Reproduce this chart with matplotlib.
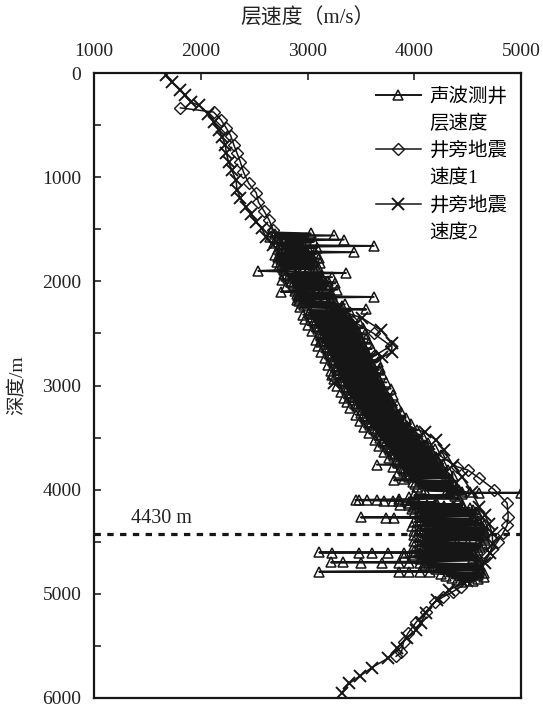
import matplotlib
matplotlib.use("Agg")
import matplotlib.pyplot as plt
from matplotlib.lines import Line2D
from matplotlib.ticker import MultipleLocator

plt.rcParams['font.family'] = ['Liberation Serif', 'Noto Sans CJK SC', 'DejaVu Sans']

# sonic log interval velocity (depth m, velocity m/s)
sonic_depth = [
    1530, 1540, 1550, 1560, 1570, 1580, 1590, 1600, 1610, 1620, 1630, 1640, 1650, 1660, 1670, 1680, 1690, 1700, 1710, 1720,
    1730, 1740, 1750, 1760, 1770, 1780, 1790, 1800, 1810, 1820, 1830, 1840, 1850, 1860, 1870, 1880, 1890, 1900, 1910, 1920,
    1930, 1940, 1950, 1960, 1970, 1980, 1990, 2000, 2010, 2020, 2030, 2040, 2050, 2060, 2070, 2080, 2090, 2100, 2110, 2120,
    2130, 2140, 2150, 2160, 2170, 2180, 2190, 2200, 2210, 2220, 2230, 2240, 2250, 2260, 2270, 2280, 2290, 2300, 2310, 2320,
    2330, 2340, 2350, 2360, 2370, 2380, 2390, 2400, 2410, 2420, 2430, 2440, 2450, 2460, 2470, 2480, 2490, 2500, 2510, 2520,
    2530, 2540, 2550, 2560, 2570, 2580, 2590, 2600, 2610, 2620, 2630, 2640, 2650, 2660, 2670, 2680, 2690, 2700, 2710, 2720,
    2730, 2740, 2750, 2760, 2770, 2780, 2790, 2800, 2810, 2820, 2830, 2840, 2850, 2860, 2870, 2880, 2890, 2900, 2910, 2920,
    2930, 2940, 2950, 2960, 2970, 2980, 2990, 3000, 3010, 3020, 3030, 3040, 3050, 3060, 3070, 3080, 3090, 3100, 3110, 3120,
    3130, 3140, 3150, 3160, 3170, 3180, 3190, 3200, 3210, 3220, 3230, 3240, 3250, 3260, 3270, 3280, 3290, 3300, 3310, 3320,
    3330, 3340, 3350, 3360, 3370, 3380, 3390, 3400, 3410, 3420, 3430, 3440, 3450, 3460, 3470, 3480, 3490, 3500, 3510, 3520,
    3530, 3540, 3550, 3560, 3570, 3580, 3590, 3600, 3610, 3620, 3630, 3640, 3650, 3660, 3670, 3680, 3690, 3700, 3710, 3720,
    3730, 3740, 3750, 3760, 3770, 3780, 3790, 3800, 3810, 3820, 3830, 3840, 3850, 3860, 3870, 3880, 3890, 3900, 3910, 3920,
    3930, 3940, 3950, 3960, 3970, 3980, 3990, 4000, 4010, 4020,
    4026, 4028, 4030, 4035, 4045, 4055, 4065, 4075, 4085, 4092, 4098, 4100, 4102, 4104, 4106, 4108, 4110, 4120, 4130, 4140,
    4148, 4149, 4150, 4151, 4152, 4153, 4154, 4155, 4165, 4175, 4185, 4195, 4205, 4215, 4225, 4235, 4245, 4255, 4266, 4268,
    4270, 4280, 4290, 4300, 4310, 4320, 4330, 4340, 4350, 4352, 4354, 4356, 4358, 4360, 4362, 4364, 4375, 4385, 4395, 4405,
    4415, 4425, 4435, 4445, 4455, 4465, 4475, 4485, 4495, 4505, 4507, 4509, 4511, 4513, 4515, 4525, 4535, 4545, 4555, 4565,
    4575, 4585, 4595, 4603, 4604, 4605, 4606, 4607, 4608, 4609, 4610, 4611, 4620, 4630, 4640, 4650, 4660, 4670, 4680, 4690,
    4698, 4699, 4700, 4701, 4702, 4703, 4704, 4705, 4715, 4725, 4735, 4745, 4755, 4765, 4775, 4788, 4789, 4790, 4791, 4792,
    4800, 4810, 4820, 4830, 4840, 4850, 4860, 4870, 4880, 4888,
]
sonic_vel = [
    2660, 3030, 2700, 3250, 2650, 2990, 2720, 3340, 2790, 3060, 2690, 2960, 2740, 3620, 2760, 3090, 2720, 3010, 2790, 3440,
    2740, 3080, 2700, 3040, 2720, 3110, 2750, 3060, 2710, 3120, 2760, 3070, 2730, 3100, 2770, 3060, 2780, 2540, 2900, 3360,
    2780, 3130, 2800, 3230, 2820, 3140, 2760, 3190, 2850, 3260, 2860, 3200, 2800, 3180, 2890, 3280, 2880, 2750, 3220, 2900,
    3230, 2910, 3620, 2920, 3240, 2900, 2920, 3260, 2950, 3350, 2970, 3320, 2930, 3310, 3550, 3020, 3400, 3010, 3360, 2960,
    3370, 3030, 3390, 2980, 3400, 3060, 3480, 3070, 3430, 3000, 3440, 3090, 3520, 3100, 3460, 3040, 3470, 3120, 3540, 3130,
    3490, 3140, 3550, 3080, 3500, 3130, 3580, 3160, 3520, 3100, 3530, 3180, 3600, 3190, 3550, 3130, 3560, 3210, 3640, 3220,
    3570, 3160, 3580, 3240, 3660, 3250, 3600, 3190, 3610, 3270, 3680, 3280, 3670, 3220, 3630, 3290, 3700, 3230, 3650, 3310,
    3660, 3250, 3670, 3330, 3740, 3340, 3690, 3280, 3700, 3360, 3780, 3370, 3720, 3310, 3730, 3390, 3800, 3400, 3750, 3340,
    3760, 3430, 3780, 3370, 3790, 3450, 3840, 3460, 3800, 3400, 3810, 3510, 3880, 3500, 3840, 3450, 3860, 3540, 3920, 3550,
    3890, 3490, 3900, 3580, 3970, 3590, 3930, 3530, 3950, 3620, 4030, 3640, 3980, 3580, 4000, 3670, 4080, 3680, 4040, 3630,
    4060, 3710, 4130, 3730, 4100, 3670, 4120, 3760, 4190, 3770, 4160, 3720, 4170, 3800, 4250, 3810, 4200, 3760, 4210, 3840,
    4220, 3850, 4270, 3650, 4250, 3800, 4260, 3890, 4320, 3900, 4290, 3850, 4300, 3940, 4360, 3950, 4330, 3900, 3810, 4350,
    3990, 4360, 4010, 4380, 4030, 4400, 4060, 4420, 4100, 4450,
    4520, 4610, 5000, 4300, 4450, 4000, 4380, 3950, 4420, 3860, 3480, 3450, 3560, 3650, 3720, 3800, 3860, 4200, 3950, 4450,
    3870, 3950, 4040, 4120, 4200, 4280, 4360, 4450, 4000, 4520, 3980, 4550, 4050, 4580, 4000, 4600, 4050, 4550, 3500, 3740,
    3810, 4550, 4050, 4600, 4000, 4620, 4100, 4650, 3980, 4070, 4150, 4250, 4350, 4450, 4550, 4640, 4050, 4650, 4000, 4660,
    4100, 4650, 4000, 4630, 4050, 4650, 4100, 4660, 4000, 4100, 4200, 4300, 4400, 4500, 4600, 4050, 4640, 4000, 4620, 4100,
    4600, 4000, 4550, 3110, 3230, 3480, 3600, 3750, 3900, 4050, 4200, 4350, 4550, 4000, 4600, 3900, 4550, 4050, 4600, 4100,
    3220, 3330, 3500, 3700, 3860, 3950, 4050, 4140, 4600, 4100, 4620, 4150, 4600, 4200, 4620, 3110, 3860, 3950, 4050, 4150,
    4650, 4250, 4600, 4300, 4650, 4350, 4600, 4400, 4550, 4450,
]

# well-side seismic velocity 1 (diamonds)
seis1_depth = [335, 375, 450, 530, 600, 690, 770, 850, 950, 1060, 1150, 1240, 1320, 1410, 1510, 1610, 1720, 1830,
               1940, 2050, 2160, 2270, 2380, 2500, 2620, 2720, 2820, 2930, 3040, 3150, 3260, 3370, 3480, 3580,
               3680, 3780, 3810, 3890, 4000, 4130, 4260, 4340, 4420, 4500, 4570, 4640, 4770, 4870, 4930, 4980,
               5030, 5080, 5170, 5270, 5380, 5460, 5560, 5600]
seis1_vel = [1810, 2120, 2190, 2240, 2280, 2310, 2340, 2370, 2400, 2450, 2520, 2540, 2590, 2640, 2680, 2760, 2850, 2930,
             3010, 3080, 3160, 3260, 3420, 3620, 3780, 3620, 3480, 3500, 3560, 3640, 3740, 3860, 3990, 4110,
             4250, 4400, 4500, 4610, 4750, 4870, 4880, 4870, 4830, 4780, 4730, 4680, 4600, 4490, 4440, 4360,
             4270, 4190, 4110, 4020, 3940, 3900, 3880, 3830]

# well-side seismic velocity 2 (crosses)
seis2_depth = [20, 90, 160, 210, 280, 310, 390, 470, 550, 610, 690, 770, 850, 930, 1030, 1120, 1200, 1290, 1350,
               1430, 1490, 1570, 1650, 1750, 1850, 1950, 2050, 2150, 2250, 2350, 2470, 2590, 2680, 2730, 2800,
               2900, 2980, 3050, 3150, 3250, 3350, 3450, 3520, 3620, 3760, 3880, 4020, 4170, 4240, 4330, 4420,
               4520, 4610, 4700, 4780, 4880, 4960, 5060, 5180, 5280, 5350, 5420, 5520, 5620, 5710, 5790, 5860,
               5950]
seis2_vel = [1670, 1730, 1810, 1850, 1910, 1980, 2070, 2120, 2170, 2200, 2230, 2240, 2260, 2290, 2330, 2340, 2370,
             2420, 2470, 2520, 2570, 2610, 2680, 2760, 2850, 2930, 3010, 3090, 3200, 3510, 3690, 3790, 3790, 3700,
             3480, 3380, 3250, 3480, 3620, 3720, 3850, 4100, 4200, 4280, 4360, 4450, 4540, 4610, 4660, 4700, 4730,
             4735, 4710, 4660, 4600, 4490, 4330, 4210, 4110, 4060, 4020, 3930, 3840, 3750, 3600, 3490, 3390,
             3320]

marker_depth = 4430

# legend text, one row each (second row of every entry has no symbol)
legend_rows = ['声波测井', '层速度', '井旁地震', '速度1', '井旁地震', '速度2']

fig = plt.figure(figsize=(5.43, 7.13), dpi=100)
ax = fig.add_axes([94 / 543, 1 - 698 / 713, 427 / 543, 625 / 713])

ink = '#161616'
l_s1, = ax.plot(seis1_vel, seis1_depth, color=ink, lw=1.1, marker='D', ms=6, mfc='none', mew=1.0, zorder=2)
l_s2, = ax.plot(seis2_vel, seis2_depth, color=ink, lw=1.1, marker='x', ms=8, mew=1.4, zorder=2)
l_son, = ax.plot(sonic_vel, sonic_depth, color=ink, lw=1.4, marker='^', ms=6.5, mfc='none', mew=1.1, zorder=3)

ax.axhline(marker_depth, color=ink, lw=2.3, dashes=(2, 2), zorder=4)
ax.text(1350, marker_depth - 60, '4430 m', fontsize=14.5, va='bottom', ha='left', color='#222222')

ax.set_xlim(1000, 5000)
ax.set_ylim(6000, 0)
ax.xaxis.tick_top()
ax.xaxis.set_label_position('top')
ax.xaxis.set_major_locator(MultipleLocator(1000))
ax.yaxis.set_major_locator(MultipleLocator(1000))
ax.yaxis.set_minor_locator(MultipleLocator(500))
ax.tick_params(axis='both', which='both', direction='in', labelsize=14, colors='#222222')
ax.tick_params(axis='both', which='major', length=5, width=1.2, pad=9)
ax.tick_params(axis='y', which='minor', length=5, width=1.2)
ax.set_xlabel('层速度（m/s）', fontsize=15, labelpad=14, color='#222222')
ax.set_ylabel('深度/m', fontsize=14, labelpad=12, color='#222222')
for s in ax.spines.values():
    s.set_linewidth(1.6)
    s.set_color(ink)

blank = Line2D([], [], color='none')
leg = ax.legend([l_son, blank, l_s1, blank, l_s2, blank], legend_rows, loc='upper right', frameon=False,
                fontsize=14, handlelength=2.3, handletextpad=0.45, borderaxespad=0.3, labelspacing=0.45)

fig.savefig('out.png', dpi=100)
